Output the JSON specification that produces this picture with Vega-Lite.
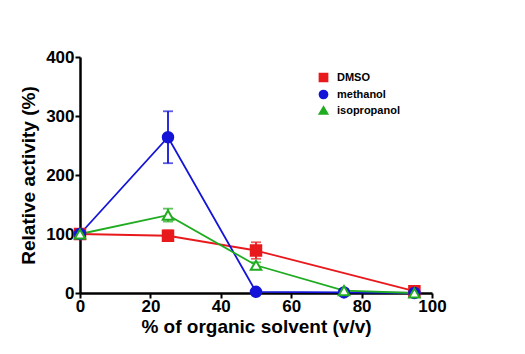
{
  "$schema": "https://vega.github.io/schema/vega-lite/v6.json",
  "autosize": "none",
  "width": 352,
  "height": 236,
  "padding": {"left": 80, "top": 57, "right": 93, "bottom": 61},
  "background": "white",
  "data": {"values": [
    {"solvent": "DMSO", "x": 0, "y": 100, "lo": 100, "hi": 100},
    {"solvent": "DMSO", "x": 25, "y": 97, "lo": 88, "hi": 106},
    {"solvent": "DMSO", "x": 50, "y": 72, "lo": 58, "hi": 86},
    {"solvent": "DMSO", "x": 95, "y": 3, "lo": 1, "hi": 5},
    {"solvent": "methanol", "x": 0, "y": 100, "lo": 100, "hi": 100},
    {"solvent": "methanol", "x": 25, "y": 264, "lo": 220, "hi": 308},
    {"solvent": "methanol", "x": 50, "y": 2, "lo": 1, "hi": 3},
    {"solvent": "methanol", "x": 75, "y": 1, "lo": 0, "hi": 2},
    {"solvent": "methanol", "x": 95, "y": 0, "lo": 0, "hi": 1},
    {"solvent": "isopropanol", "x": 0, "y": 100, "lo": 100, "hi": 100},
    {"solvent": "isopropanol", "x": 25, "y": 132, "lo": 121, "hi": 143},
    {"solvent": "isopropanol", "x": 50, "y": 47, "lo": 42, "hi": 52},
    {"solvent": "isopropanol", "x": 75, "y": 4, "lo": 2, "hi": 6},
    {"solvent": "isopropanol", "x": 95, "y": 0, "lo": 0, "hi": 1}
  ]},
  "encoding": {
    "x": {"field": "x", "type": "quantitative", "scale": {"domain": [0, 100]}, "axis": {"values": [0, 20, 40, 60, 80, 100], "title": "% of organic solvent (v/v)", "titlePadding": 3, "labelPadding": 0, "labelFlush": false}},
    "y": {"field": "y", "type": "quantitative", "scale": {"domain": [0, 400]}, "axis": {"values": [0, 100, 200, 300, 400], "title": "Relative activity (%)", "titlePadding": 7, "labelPadding": 1}}
  },
  "layer": [
    {
      "mark": {"type": "line", "strokeWidth": 1.8},
      "encoding": {
        "color": {"field": "solvent", "type": "nominal", "scale": {"domain": ["DMSO", "methanol", "isopropanol"], "range": ["#e8191c", "#1414d8", "#20ac20"]}}
      }
    },
    {
      "mark": {"type": "rule", "strokeWidth": 1.8},
      "encoding": {
        "y": {"field": "lo", "type": "quantitative"},
        "y2": {"field": "hi"},
        "color": {"field": "solvent", "type": "nominal"}
      }
    },
    {
      "mark": {"type": "tick", "orient": "horizontal", "thickness": 1.8, "size": 10},
      "encoding": {
        "y": {"field": "hi", "type": "quantitative"},
        "color": {"field": "solvent", "type": "nominal"}
      }
    },
    {
      "mark": {"type": "tick", "orient": "horizontal", "thickness": 1.8, "size": 10},
      "encoding": {
        "y": {"field": "lo", "type": "quantitative"},
        "color": {"field": "solvent", "type": "nominal"}
      }
    },
    {
      "mark": {"type": "point", "strokeWidth": 2, "opacity": 1, "filled": false},
      "encoding": {
        "color": {"field": "solvent", "type": "nominal", "legend": {"title": null, "rowPadding": 0, "symbolSize": 60, "encode": {"symbols": {"update": {"fill": [{"test": "datum.value === 'isopropanol'", "value": "white"}, {"scale": "color", "field": "value"}], "opacity": {"value": 1}, "size": {"value": 60}}}}}},
        "shape": {"field": "solvent", "type": "nominal", "scale": {"domain": ["DMSO", "methanol", "isopropanol"], "range": ["square", "circle", "triangle-up"]}, "legend": {"title": null, "rowPadding": 0, "symbolSize": 60, "encode": {"symbols": {"update": {"fill": [{"test": "datum.value === 'isopropanol'", "value": "white"}, {"scale": "color", "field": "value"}], "opacity": {"value": 1}, "size": {"value": 60}}}}}},
        "fill": {"field": "solvent", "type": "nominal", "scale": {"domain": ["DMSO", "methanol", "isopropanol"], "range": ["#e8191c", "#1414d8", "white"]}, "legend": {"title": null, "rowPadding": 0, "symbolSize": 60, "encode": {"symbols": {"update": {"fill": [{"test": "datum.value === 'isopropanol'", "value": "white"}, {"scale": "color", "field": "value"}], "opacity": {"value": 1}, "size": {"value": 60}}}}}},
        "size": {"value": 110}
      }
    }
  ],
  "config": {
    "font": "Liberation Sans",
    "view": {"stroke": null},
    "axis": {
      "domainColor": "black", "domainWidth": 2.5, "tickColor": "black", "tickWidth": 2, "tickSize": 5,
      "grid": false, "labelFont": "Liberation Sans", "labelFontWeight": "bold", "labelFontSize": 17, "labelColor": "black",
      "titleFont": "Liberation Sans", "titleFontWeight": "bold", "titleFontSize": 19, "titleColor": "black"
    },
    "legend": {
      "orient": "none", "legendX": 238, "legendY": 15, "labelFont": "Liberation Sans", "labelFontWeight": "bold", "labelFontSize": 11, "labelColor": "black",
      "symbolSize": 60, "symbolStrokeWidth": 2, "symbolOpacity": 1, "rowPadding": 0, "labelOffset": 8, "padding": 0
    }
  }
}
